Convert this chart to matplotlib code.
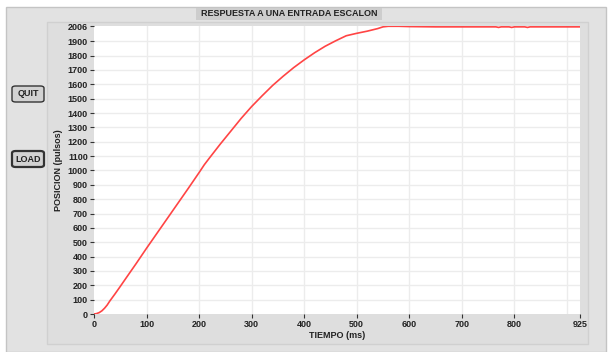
import matplotlib
matplotlib.use("Agg")
import matplotlib.pyplot as plt
from matplotlib.patches import Rectangle, FancyBboxPatch

# datos (tiempo en ms, posicion en pulsos)
tiempo = [0, 5, 10, 15, 20, 25, 30, 40, 50, 60, 80, 100, 120, 140, 160, 180,
          200, 210, 220, 240, 260, 280, 300, 320, 340, 360, 380, 400, 420,
          440, 460, 480, 500, 520, 540, 550, 560, 580, 600, 650, 700, 750,
          765, 770, 775, 790, 795, 800, 820, 825, 830, 850, 900, 925]
posicion = [0, 3, 10, 22, 40, 62, 90, 140, 192, 245, 350, 458, 563, 668,
            773, 878, 985, 1040, 1088, 1182, 1272, 1362, 1445, 1520, 1592,
            1656, 1716, 1770, 1820, 1865, 1903, 1938, 1955, 1970, 1988,
            2000, 2004, 2004, 2002, 2000, 2000, 2000, 2000, 1996, 2000,
            2000, 1996, 2000, 2000, 1996, 2000, 2000, 2000, 2000]

xticks = [0, 100, 200, 300, 400, 500, 600, 700, 800, 925]
yticks = list(range(0, 2000, 100)) + [2006]

W, H = 609, 352
fig = plt.figure(figsize=(W / 100, H / 100), dpi=100)
fig.patch.set_facecolor("white")


def fx(x):
    return x / W


def fy(y):
    return 1 - y / H


def caja(x0, y0, x1, y1, **kw):
    fig.patches.append(Rectangle((fx(x0), fy(y1)), fx(x1) - fx(x0), fy(y0) - fy(y1),
                                 transform=fig.transFigure, zorder=0, **kw))


# ventana y panel del grafico
caja(6, 7, 606, 352, facecolor="#e2e2e2", edgecolor="#c4c4c4", lw=1)
caja(47, 22, 588, 344, facecolor="#dedede", edgecolor="#d0d0d0", lw=1)
fig.lines.append(plt.Line2D([fx(47), fx(588)], [fy(344), fy(344)], zorder=0,
                            transform=fig.transFigure, color="#b8b8b8", lw=1.5))
fig.lines.append(plt.Line2D([fx(588), fx(588)], [fy(22), fy(344)], zorder=0,
                            transform=fig.transFigure, color="#b8b8b8", lw=1.5))

# barra del titulo
caja(196, 8, 382, 20, facecolor="#cdcdcd", edgecolor="none")
fig.text(fx(289), fy(14), "RESPUESTA A UNA ENTRADA ESCALON", ha="center", va="center",
         fontsize=6.5, fontweight="bold", family="Liberation Sans", color="#222222")

# botones
for etiqueta, y0, grosor in [("QUIT", 86, 1.0), ("LOAD", 151, 1.6)]:
    b = FancyBboxPatch((fx(12), fy(y0 + 16)), fx(44) - fx(12), fy(y0) - fy(y0 + 16),
                       boxstyle="round,pad=0,rounding_size=0.006",
                       transform=fig.transFigure, facecolor="#d2d2d2",
                       edgecolor="#333333", lw=grosor, zorder=0)
    fig.patches.append(b)
    fig.text(fx(28), fy(y0 + 8), etiqueta, ha="center", va="center", fontsize=6.5,
             fontweight="bold", family="Liberation Sans", color="#222222")

ax = fig.add_axes([fx(94), fy(314), fx(580) - fx(94), fy(26) - fy(314)])
ax.set_zorder(5)
ax.set_facecolor("white")
ax.plot(tiempo, posicion, color="#ff4444", lw=1.2)

ax.set_xlim(0, 925)
ax.set_ylim(0, 2006)
ax.set_xticks(xticks)
ax.set_yticks(yticks)
for x in range(100, 1000, 100):
    ax.axvline(x, color="#ececec", lw=1, zorder=0)
for y in range(100, 2000, 100):
    ax.axhline(y, color="#ececec", lw=1, zorder=0)

for s in ax.spines.values():
    s.set_visible(False)
ax.tick_params(axis="both", length=3, width=0.8, color="#333333", labelsize=6.5,
               pad=1.5, labelcolor="#222222")
for lab in ax.get_xticklabels() + ax.get_yticklabels():
    lab.set_fontweight("bold")
    lab.set_family("Liberation Sans")

ax.set_xlabel("TIEMPO (ms)", fontsize=6.5, fontweight="bold", family="Liberation Sans",
              labelpad=1, color="#222222")
ax.set_ylabel("POSICION (pulsos)", fontsize=6.5, fontweight="bold",
              family="Liberation Sans", labelpad=3, color="#222222")

fig.savefig("out.png", dpi=100, facecolor=fig.get_facecolor())
